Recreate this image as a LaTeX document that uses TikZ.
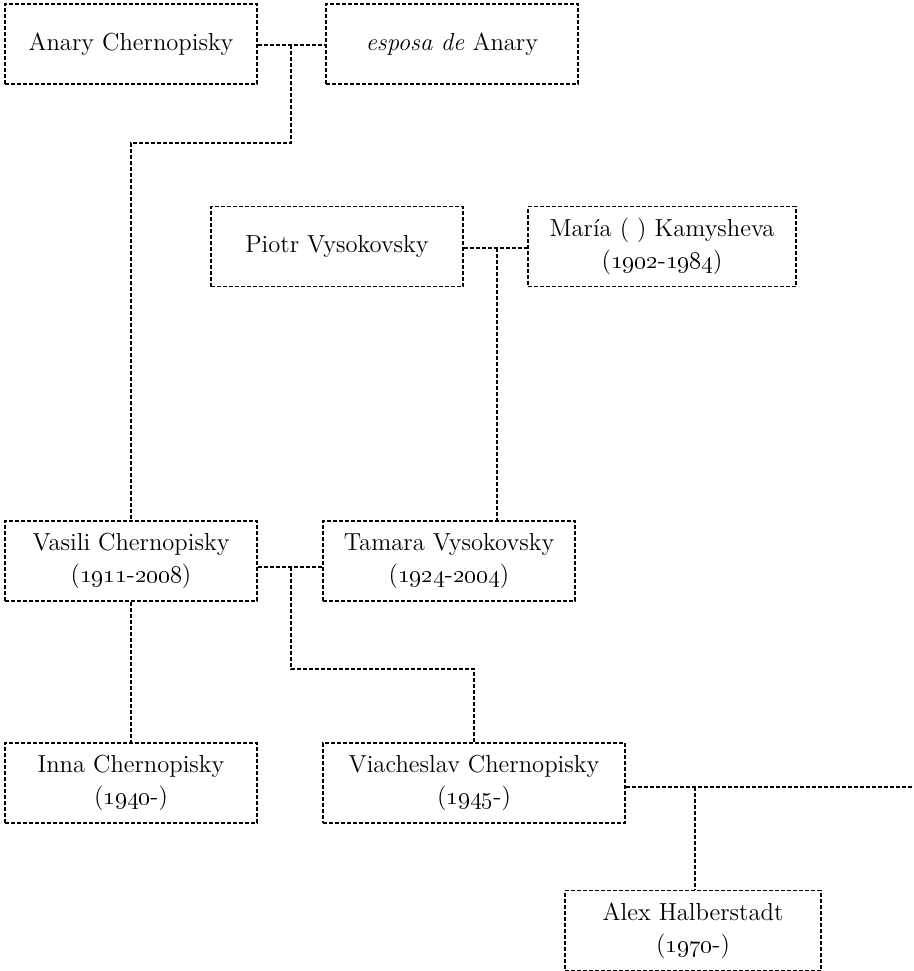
\documentclass[tikz,border=0pt]{standalone}
\begin{document}
\begin{tikzpicture}[x=0.5pt,y=-0.5pt,
  person/.style={draw, line width=0.55pt, dash pattern=on 2pt off 1pt, minimum height=40pt, inner sep=0pt, align=center, font=\fontsize{12.3}{16}\selectfont},
  link/.style={line width=0.55pt, dash pattern=on 2pt off 1pt}]
\useasboundingbox (0,0) rectangle (914,971);
\newcommand{\yr}[1]{\oldstylenums{#1}}
\node[person, minimum width=126pt] (anary) at (131,44) {Anary Chernopisky};
\node[person, minimum width=126pt] (esposa) at (452,44) {\textit{esposa de} Anary};
\node[person, minimum width=126pt] (piotr) at (337,246.5) {Piotr Vysokovsky};
\node[person, minimum width=134pt] (maria) at (662,246.5) {María ( ) Kamysheva\\(\yr{1902}-\yr{1984})};
\node[person, minimum width=126pt] (vasili) at (131,561) {Vasili Chernopisky\\(\yr{1911}-\yr{2008})};
\node[person, minimum width=126pt] (tamara) at (449,561) {Tamara Vysokovsky\\(\yr{1924}-\yr{2004})};
\node[person, minimum width=126pt] (inna) at (131,783) {Inna Chernopisky\\(\yr{1940}-)};
\node[person, minimum width=151pt] (viach) at (474,783) {Viacheslav Chernopisky\\(\yr{1945}-)};
\node[person, minimum width=128pt] (alex) at (693,930.5) {Alex Halberstadt\\(\yr{1970}-)};
\coordinate (m1) at (291,45);
\coordinate (j1) at (291,143);
\coordinate (m2) at (497,248);
\coordinate (m3) at (291,567);
\coordinate (j3) at (291,669);
\coordinate (m4) at (695,787);
\coordinate (e4) at (914,787);
\draw[link] (anary.east |- m1) -- (esposa.west |- m1);
\draw[link] (m1) -- (j1) -| (vasili.north);
\draw[link] (piotr.east |- m2) -- (maria.west |- m2);
\draw[link] (m2) -- (m2 |- tamara.north);
\draw[link] (vasili.east |- m3) -- (tamara.west |- m3);
\draw[link] (m3) -- (j3) -| (viach.north);
\draw[link] (vasili.south) -- (inna.north);
\draw[link] (viach.east |- m4) -- (e4);
\draw[link] (m4) -- (m4 |- alex.north);
\end{tikzpicture}
\end{document}
